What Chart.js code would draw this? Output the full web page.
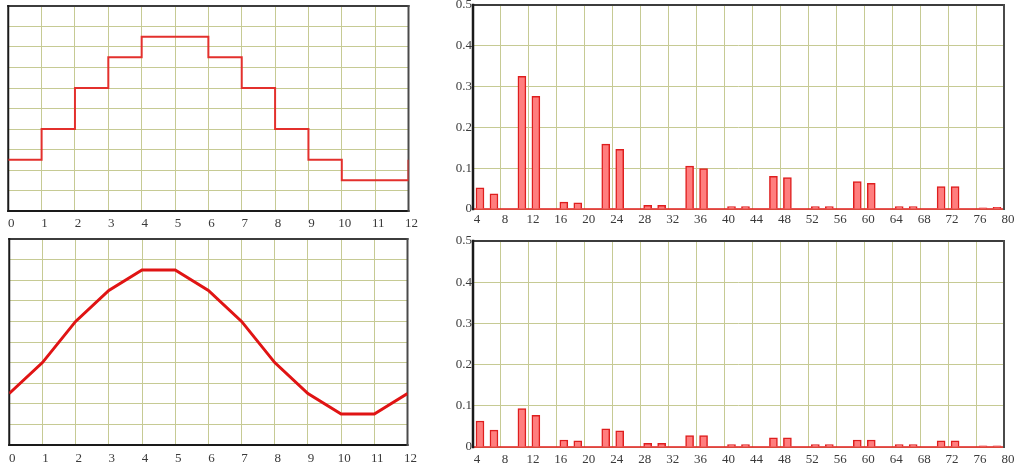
<!DOCTYPE html>
<html>
<head>
<meta charset="utf-8">
<script src="https://cdn.jsdelivr.net/npm/chart.js@4.4.1/dist/chart.umd.min.js"></script>
<style>
  html, body { margin: 0; padding: 0; background: #ffffff; overflow: hidden; }
  body { width: 1018px; height: 469px; position: relative; }
  canvas { position: absolute; }
</style>
</head>
<body>
<canvas id="c1"></canvas>
<canvas id="c2"></canvas>
<canvas id="c3"></canvas>
<canvas id="c4"></canvas>
<script>
// ---------------- DATA ----------------
const waveX = [0, 1, 2, 3, 4, 5, 6, 7, 8, 9, 10, 11, 12];
const waveLevels = [2.5, 4, 6, 7.5, 8.5, 8.5, 7.5, 6, 4, 2.5, 1.5, 1.5, 2.5];

const harmonicOrders = [5, 7, 11, 13, 17, 19, 23, 25, 29, 31, 35, 37, 41, 43, 47, 49, 53, 55, 59, 61, 65, 67, 71, 73, 77, 79];
const spectrumTop = [0.052, 0.037, 0.325, 0.276, 0.017, 0.015, 0.159, 0.146, 0.009, 0.009, 0.105, 0.099, 0.006, 0.006, 0.080, 0.077, 0.006, 0.006, 0.067, 0.063, 0.006, 0.006, 0.055, 0.055, 0.003, 0.004];
const spectrumBottom = [0.063, 0.041, 0.093, 0.077, 0.017, 0.015, 0.044, 0.039, 0.009, 0.009, 0.028, 0.028, 0.006, 0.006, 0.022, 0.022, 0.006, 0.006, 0.017, 0.017, 0.006, 0.006, 0.015, 0.015, 0.003, 0.003];

// ---------------- STYLE ----------------
Chart.defaults.font.family = "'Liberation Serif', 'Times New Roman', serif";
Chart.defaults.font.size = 13;
Chart.defaults.color = '#3a3a3a';
const GRID = '#c6ca94';

const framePlugin = {
  id: 'frame',
  beforeDatasetsDraw(chart, args, opts) {
    const { ctx, chartArea: a } = chart;
    ctx.save();
    ctx.lineCap = 'square';
    const side = (spec, x1, y1, x2, y2) => {
      ctx.strokeStyle = spec[0];
      ctx.lineWidth = spec[1];
      ctx.beginPath();
      ctx.moveTo(x1, y1);
      ctx.lineTo(x2, y2);
      ctx.stroke();
    };
    side(opts.bottom, a.left, a.bottom, a.right, a.bottom);
    side(opts.top, a.left, a.top, a.right, a.top);
    side(opts.right, a.right, a.top, a.right, a.bottom);
    side(opts.left, a.left, a.top, a.left, a.bottom);
    ctx.restore();
  }
};

function place(id, box) {
  const cv = document.getElementById(id);
  cv.width = box.w; cv.height = box.h;
  cv.style.left = box.x + 'px'; cv.style.top = box.y + 'px';
  cv.style.width = box.w + 'px'; cv.style.height = box.h + 'px';
  return cv;
}

function waveChart(id, box, area, stepped, lineWidth, color, labelPad) {
  const cv = place(id, box);
  return new Chart(cv, {
    type: 'line',
    data: {
      datasets: [{
        data: waveX.map((x, i) => ({ x: x, y: waveLevels[i] })),
        borderColor: color,
        borderWidth: lineWidth,
        stepped: stepped ? 'before' : false,
        pointRadius: 0,
        tension: 0,
        fill: false
      }]
    },
    options: {
      responsive: false,
      animation: false,
      events: [],
      layout: { padding: { left: 0, top: area.t - box.y, right: box.x + box.w - area.r, bottom: 0 } },
      plugins: {
        legend: { display: false }, tooltip: { enabled: false },
        frame: { left: ['#1a1a1a', 2], bottom: ['#1a1a1a', 2], top: ['#3c3c3c', 2], right: ['#4a4a4a', 2] }
      },
      scales: {
        x: {
          type: 'linear', min: 0, max: 12,
          grid: { color: GRID, lineWidth: 1, drawTicks: false },
          border: { display: false },
          ticks: { stepSize: 1, padding: labelPad, labelOffset: 3, maxRotation: 0, autoSkip: false },
          afterFit(s) { s.height = box.y + box.h - area.b; }
        },
        y: {
          min: 0, max: 10,
          grid: { color: GRID, lineWidth: 1, drawTicks: false },
          border: { display: false },
          ticks: { stepSize: 1, display: false },
          afterFit(s) { s.width = area.l - box.x; s.paddingTop = 0; s.paddingBottom = 0; }
        }
      }
    },
    plugins: [framePlugin]
  });
}

function spectrumChart(id, box, area, values, labelPad) {
  const cv = place(id, box);
  return new Chart(cv, {
    type: 'bar',
    data: {
      datasets: [{
        data: harmonicOrders.map((n, i) => ({ x: n, y: values[i] })),
        backgroundColor: '#ff7e7e',
        borderColor: '#de1e1e',
        borderWidth: 1.5,
        barThickness: 8
      }]
    },
    options: {
      responsive: false,
      animation: false,
      events: [],
      layout: { padding: { left: 0, top: area.t - box.y, right: box.x + box.w - area.r, bottom: 0 } },
      plugins: {
        legend: { display: false }, tooltip: { enabled: false },
        frame: { left: ['#1a1a1a', 2.5], bottom: ['#e21c1c', 1.5], top: ['#3c3c3c', 2], right: ['#4a4a4a', 2] }
      },
      scales: {
        x: {
          type: 'linear', min: 4, max: 80, offset: false,
          grid: { color: GRID, lineWidth: 1, drawTicks: false, offset: false },
          border: { display: false },
          ticks: { stepSize: 4, padding: labelPad, labelOffset: 4, maxRotation: 0, autoSkip: false },
          afterFit(s) { s.height = box.y + box.h - area.b; }
        },
        y: {
          min: 0, max: 0.5,
          grid: { color: GRID, lineWidth: 1, drawTicks: false },
          border: { display: false },
          ticks: {
            stepSize: 0.1, padding: 1,
            callback: v => (Math.abs(v) < 1e-9 ? '0' : v.toFixed(1))
          },
          afterFit(s) { s.width = area.l - box.x; s.paddingTop = 0; s.paddingBottom = 0; }
        }
      }
    },
    plugins: [framePlugin]
  });
}

waveChart('c1', { x: 0, y: 0, w: 420, h: 232 }, { l: 8, t: 6, r: 411, b: 211 }, true, 2, '#e3302c', 5);
waveChart('c2', { x: 0, y: 232, w: 420, h: 237 }, { l: 7, t: 239, r: 409, b: 445 }, false, 3, '#e01414', 6);
spectrumChart('c3', { x: 420, y: -10, w: 598, h: 242 }, { l: 473, t: 5, r: 1004, b: 209 }, spectrumTop, 3);
spectrumChart('c4', { x: 420, y: 226, w: 598, h: 243 }, { l: 473, t: 241, r: 1004, b: 447 }, spectrumBottom, 5);
</script>
</body>
</html>
